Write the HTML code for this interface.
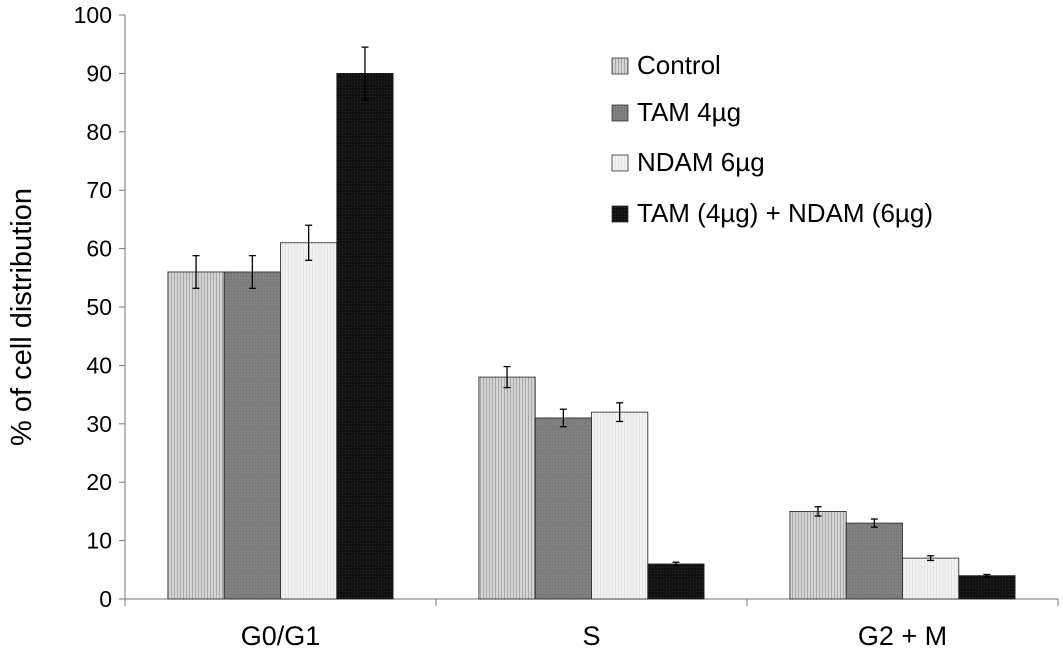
<!DOCTYPE html>
<html><head><meta charset="utf-8"><style>
html,body{margin:0;padding:0;background:#fff;}
svg{display:block;font-family:"Liberation Sans","DejaVu Sans",sans-serif;}
</style></head><body>
<svg id="chart" width="1063" height="660" viewBox="0 0 1063 660">
<defs>
<pattern id="pCtrl" width="3" height="4" patternUnits="userSpaceOnUse"><rect width="3" height="4" fill="#d4d4d4"/><rect width="1" height="4" fill="#a8a8a8"/></pattern>
<pattern id="pTam" width="3" height="3" patternUnits="userSpaceOnUse"><rect width="3" height="3" fill="#808080"/><rect width="1" height="1" fill="#707070"/></pattern>
<pattern id="pNdam" width="3" height="4" patternUnits="userSpaceOnUse"><rect width="3" height="4" fill="#f2f2f2"/><rect width="1" height="4" fill="#e4e4e4"/></pattern>
<pattern id="pComb" width="3" height="3" patternUnits="userSpaceOnUse"><rect width="3" height="3" fill="#111"/><rect width="1" height="1" fill="#2a2a2a"/></pattern>
</defs>
<g id="axes"></g>
<g id="bars"></g>
<g id="legend"></g>
</svg>
<script>
const categories = ["G0/G1", "S", "G2 + M"];
const seriesNames = ["Control", "TAM 4µg", "NDAM 6µg", "TAM (4µg) + NDAM (6µg)"];
const controlVals = [56, 38, 15];
const tamVals = [56, 31, 13];
const ndamVals = [61, 32, 7];
const combVals = [90, 6, 4];
const controlErr = [2.8, 1.8, 0.8];
const tamErr = [2.8, 1.5, 0.7];
const ndamErr = [3, 1.6, 0.4];
const combErr = [4.5, 0.3, 0.2];
const yTicks = [0, 10, 20, 30, 40, 50, 60, 70, 80, 90, 100];

const NS = "http://www.w3.org/2000/svg";
const X0 = 125, X1 = 1058, Y0 = 599, Y100 = 15;
const y = v => Y0 - (v / 100) * (Y0 - Y100);
const catW = (X1 - X0) / categories.length;
const barW = 56.3;
const fills = ["url(#pCtrl)", "url(#pTam)", "url(#pNdam)", "url(#pComb)"];
const vals = [controlVals, tamVals, ndamVals, combVals];
const errs = [controlErr, tamErr, ndamErr, combErr];
function el(tag, attrs, parent) { const e = document.createElementNS(NS, tag); for (const k in attrs) e.setAttribute(k, attrs[k]); parent.appendChild(e); return e; }

const axes = document.getElementById("axes");
let yl = el("line", {x1: X0, y1: Y100, x2: X0, y2: Y0 + 6, stroke: "#777", "stroke-width": 1}, axes);


let xl = el("line", {x1: X0, y1: Y0, x2: X1, y2: Y0, stroke: "#777", "stroke-width": 1}, axes);


yTicks.forEach(t => {
  el("line", {x1: X0 - 6, y1: y(t), x2: X0, y2: y(t), stroke: "#777"}, axes);
  const tx = el("text", {x: X0 - 13, y: y(t) + 8, "text-anchor": "end", "font-size": 23, fill: "#000"}, axes);
  tx.textContent = t;
  
  
});
for (let i = 0; i <= categories.length; i++) el("line", {x1: X0 + i * catW, y1: Y0, x2: X0 + i * catW, y2: Y0 + 7, stroke: "#777"}, axes);
categories.forEach((c, i) => {
  const tx = el("text", {x: X0 + (i + 0.5) * catW, y: 645, "text-anchor": "middle", "font-size": 27, fill: "#000"}, axes);
  tx.textContent = c;
  
  
});
const yt = el("text", {x: 0, y: 0, transform: "translate(31,317) rotate(-90)", "text-anchor": "middle", "font-size": 29, fill: "#000"}, axes);
yt.textContent = "% of cell distribution";



const bars = document.getElementById("bars");
categories.forEach((c, ci) => {
  const cx = X0 + (ci + 0.5) * catW;
  vals.forEach((s, si) => {
    const x = cx - 2 * barW + si * barW;
    const r = el("rect", {x: x, y: y(s[ci]), width: barW, height: Y0 - y(s[ci]), fill: fills[si], stroke: "#222", "stroke-width": 0.8}, bars);
    
    
    const mx = x + barW / 2, hi = y(s[ci] + errs[si][ci]), lo = y(s[ci] - errs[si][ci]);
    const g = el("g", {stroke: "#000", "stroke-width": 1.3}, bars);
    
    
    el("line", {x1: mx, y1: hi, x2: mx, y2: lo}, g);
    el("line", {x1: mx - 3.5, y1: hi, x2: mx + 3.5, y2: hi}, g);
    el("line", {x1: mx - 3.5, y1: lo, x2: mx + 3.5, y2: lo}, g);
  });
});

const legend = document.getElementById("legend");
const ly = [65, 112, 162, 213];
seriesNames.forEach((n, i) => {
  const g = el("g", {}, legend);
  
  
  el("rect", {x: 612, y: ly[i] - 7, width: 16, height: 16, fill: fills[i], stroke: "#333", "stroke-width": 0.8}, g);
  const t = el("text", {x: 637, y: ly[i] + 9, "font-size": 26, fill: "#000"}, g);
  t.textContent = n;
});
</script>
</body></html>
